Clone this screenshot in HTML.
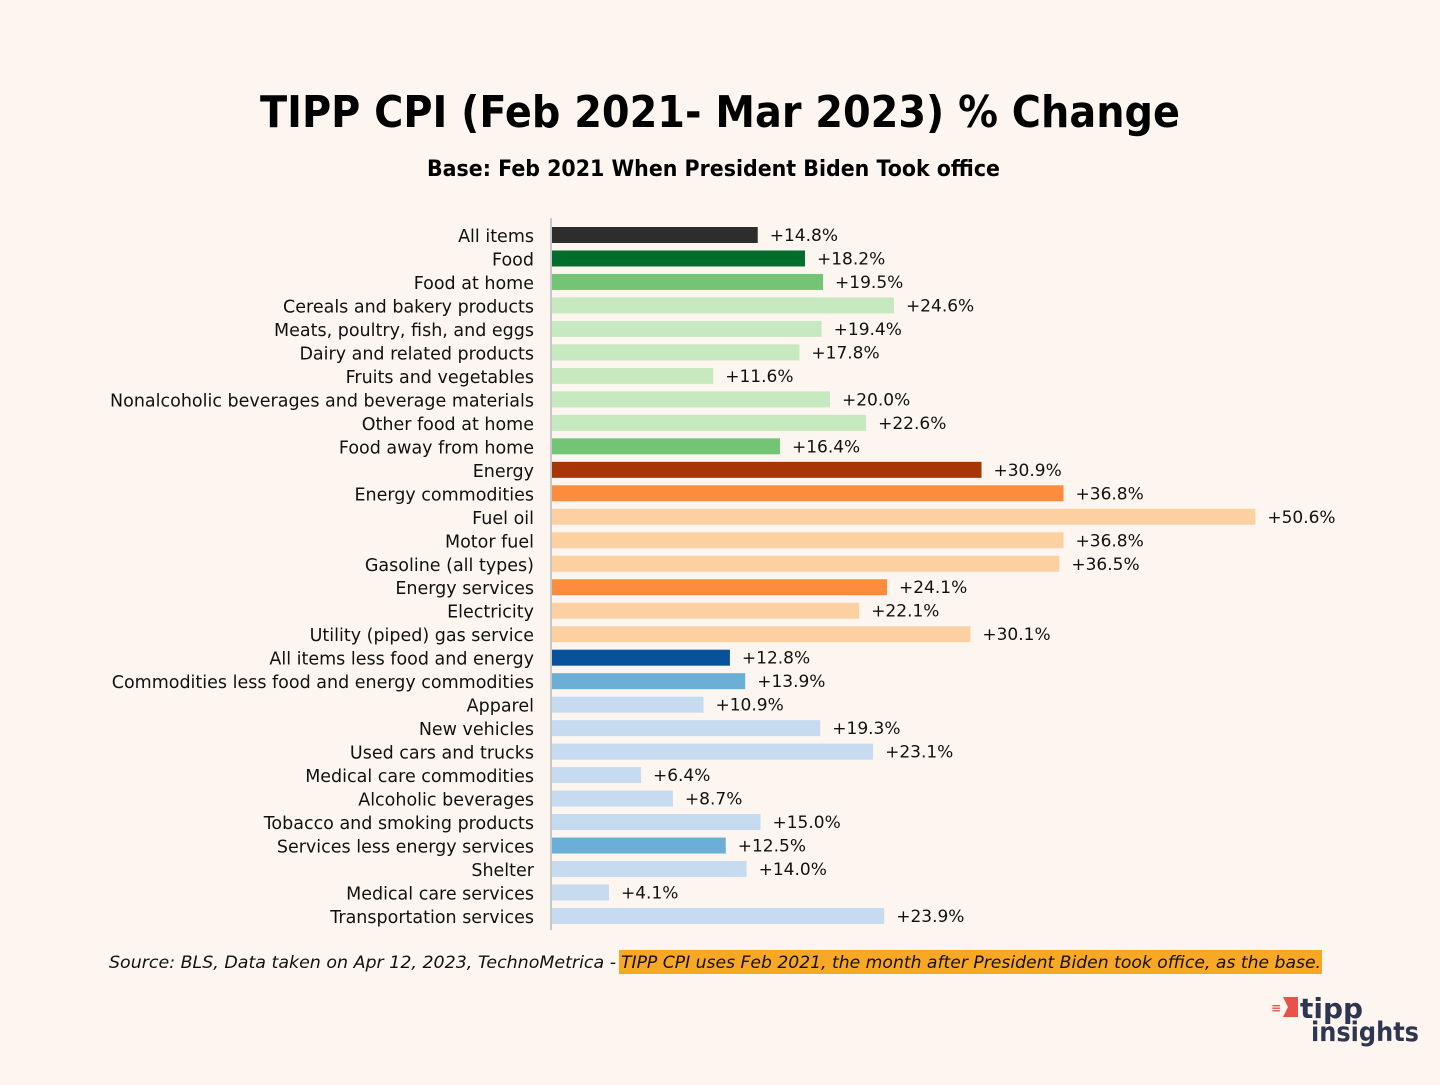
<!DOCTYPE html><html><head><meta charset="utf-8"><style>body{margin:0;background:#fdf6f0}</style></head><body>
<svg width="1440" height="1080" xmlns="http://www.w3.org/2000/svg" font-family="DejaVu Sans, sans-serif">
<rect width="1440" height="1080" fill="#fdf6f0"/>
<text x="260" y="127" textLength="920" lengthAdjust="spacingAndGlyphs" font-size="44" font-weight="bold" fill="#000">TIPP CPI (Feb 2021- Mar 2023) % Change</text>
<text x="427" y="176" textLength="573" lengthAdjust="spacingAndGlyphs" font-size="22" font-weight="bold" fill="#000">Base: Feb 2021 When President Biden Took office</text>
<line x1="551" y1="218" x2="551" y2="930" stroke="#c8c8c8" stroke-width="2"/>
<g id="bars" font-size="17.5" fill="#111"></g>
<rect x="619" y="950" width="703" height="24" fill="#f9a825"/>
<text x="109" y="968" textLength="507" lengthAdjust="spacingAndGlyphs" font-size="17" font-style="italic" fill="#111">Source:  BLS, Data taken on Apr 12, 2023, TechnoMetrica -</text>
<text x="621" y="968" textLength="700" lengthAdjust="spacingAndGlyphs" font-size="17" font-style="italic" fill="#111">TIPP CPI uses Feb 2021, the month after President Biden took office, as the base.</text>
<polygon points="1283,997 1298,997 1298,1017 1283,1017 1288,1007" fill="#e8524a"/>
<text x="1271" y="1012" font-size="12" fill="#e8524a" font-weight="bold">≡</text>
<text x="1300" y="1018" font-size="28" font-weight="bold" fill="#2f3650">tipp</text>
<text x="1311" y="1041" textLength="108" lengthAdjust="spacingAndGlyphs" font-size="27" font-weight="bold" fill="#2f3650">insights</text>
</svg>
<script>
var d=[["All items",14.8,"#2d2d2d"],["Food",18.2,"#006d2c"],["Food at home",19.5,"#74c476"],["Cereals and bakery products",24.6,"#c7e9c0"],["Meats, poultry, fish, and eggs",19.4,"#c7e9c0"],["Dairy and related products",17.8,"#c7e9c0"],["Fruits and vegetables",11.6,"#c7e9c0"],["Nonalcoholic beverages and beverage materials",20.0,"#c7e9c0"],["Other food at home",22.6,"#c7e9c0"],["Food away from home",16.4,"#74c476"],["Energy",30.9,"#a63603"],["Energy commodities",36.8,"#fd8d3c"],["Fuel oil",50.6,"#fdd0a2"],["Motor fuel",36.8,"#fdd0a2"],["Gasoline (all types)",36.5,"#fdd0a2"],["Energy services",24.1,"#fd8d3c"],["Electricity",22.1,"#fdd0a2"],["Utility (piped) gas service",30.1,"#fdd0a2"],["All items less food and energy",12.8,"#08519c"],["Commodities less food and energy commodities",13.9,"#6baed6"],["Apparel",10.9,"#c6dbef"],["New vehicles",19.3,"#c6dbef"],["Used cars and trucks",23.1,"#c6dbef"],["Medical care commodities",6.4,"#c6dbef"],["Alcoholic beverages",8.7,"#c6dbef"],["Tobacco and smoking products",15.0,"#c6dbef"],["Services less energy services",12.5,"#6baed6"],["Shelter",14.0,"#c6dbef"],["Medical care services",4.1,"#c6dbef"],["Transportation services",23.9,"#c6dbef"]];
var g=document.getElementById("bars"),h="";
d.forEach(function(r,i){var y=235+i*(916-235)/29;var w=r[1]*13.9;
h+='<rect x="552" y="'+(y-8)+'" width="'+w+'" height="16" fill="'+r[2]+'"/>';
h+='<text x="534" y="'+(y+7)+'" text-anchor="end">'+r[0]+'</text>';
h+='<text x="'+(552+w+12)+'" y="'+(y+6)+'" font-size="17">+'+r[1].toFixed(1)+'%</text>';});
g.innerHTML=h;
</script>
</body></html>
